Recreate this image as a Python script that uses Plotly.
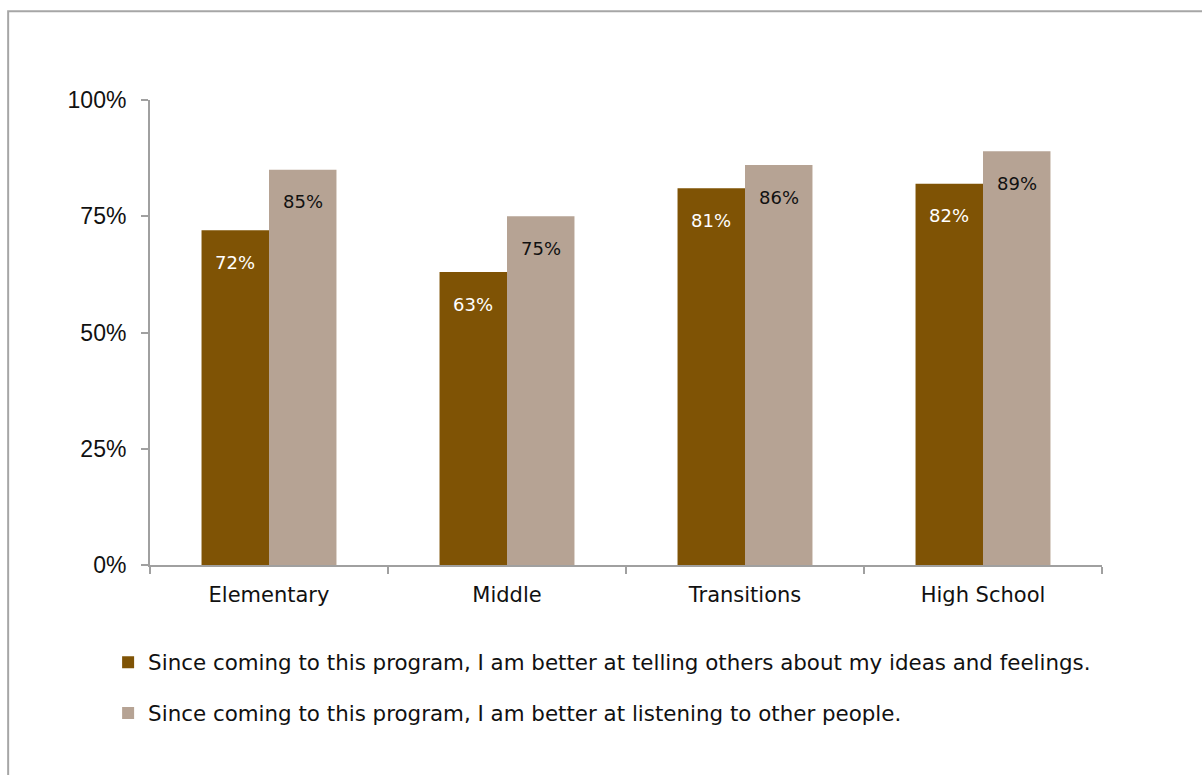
import plotly.graph_objects as go

categories = ["Elementary", "Middle", "Transitions", "High School"]
ideas_feelings = [0.72, 0.63, 0.81, 0.82]
listening = [0.85, 0.75, 0.86, 0.89]
series_names = [
    "Since coming to this program, I am better at telling others about my ideas and feelings.",
    "Since coming to this program, I am better at listening to other people.",
]
colors = ["#7f5305", "#b6a394"]
ytick_vals = [0, 0.25, 0.5, 0.75, 1.0]
ytick_text = ["0%", "25%", "50%", "75%", "100%"]

LABEL_FONT = "DejaVu Sans"
AXIS_FONT = "Liberation Sans"

fig = go.Figure()
series = [ideas_feelings, listening]
for i, (name, vals) in enumerate(zip(series_names, series)):
    fig.add_trace(go.Bar(
        x=categories, y=vals, name=name,
        marker=dict(color=colors[i], line=dict(width=0)),
        legendgroup=f"g{i}",
        hoverinfo="y",
    ))

# value labels sitting just inside the top of each bar
half_bar = 34
for i, vals in enumerate(series):
    for cat, v in zip(categories, vals):
        fig.add_annotation(
            x=cat, y=v, xref="x", yref="y",
            text=f"{round(v * 100)}%",
            showarrow=False,
            xshift=-half_bar if i == 0 else half_bar,
            yshift=-32, yanchor="middle",
            font=dict(family=LABEL_FONT, size=18, color="white" if i == 0 else "#111111"),
        )

# outer frame
fig.add_shape(type="rect", xref="paper", yref="paper",
              x0=-0.149, x1=1.3, y0=-0.8, y1=1.191,
              line=dict(color="#a6a6a6", width=2), fillcolor="rgba(0,0,0,0)", layer="below")

fig.update_layout(
    width=1202, height=775,
    margin=dict(l=150, r=100, t=100, b=210),
    paper_bgcolor="white", plot_bgcolor="white",
    barmode="group", bargap=0.433, bargroupgap=0,
    showlegend=True,
    legend=dict(
        x=-0.044, y=-0.165, xanchor="left", yanchor="top",
        orientation="v", traceorder="grouped", tracegroupgap=20,
        font=dict(family=LABEL_FONT, size=21.4, color="#111111"),
        bgcolor="rgba(0,0,0,0)",
    ),
    xaxis=dict(
        showline=True, linecolor="#a0a0a0", linewidth=2,
        ticks="outside", tickson="boundaries", ticklen=7, tickcolor="#a0a0a0", tickwidth=2,
        tickfont=dict(family=LABEL_FONT, size=21, color="#111111"),
        ticklabelstandoff=10,
        showgrid=False, zeroline=False,
    ),
    yaxis=dict(
        range=[0, 1], tickvals=ytick_vals, ticktext=ytick_text,
        showline=True, linecolor="#a0a0a0", linewidth=2,
        ticks="outside", ticklen=7, tickcolor="#a0a0a0", tickwidth=2,
        tickfont=dict(family=AXIS_FONT, size=23, color="#111111"),
        ticklabelstandoff=10,
        showgrid=False, zeroline=False,
    ),
)

fig.write_html("out.html")
